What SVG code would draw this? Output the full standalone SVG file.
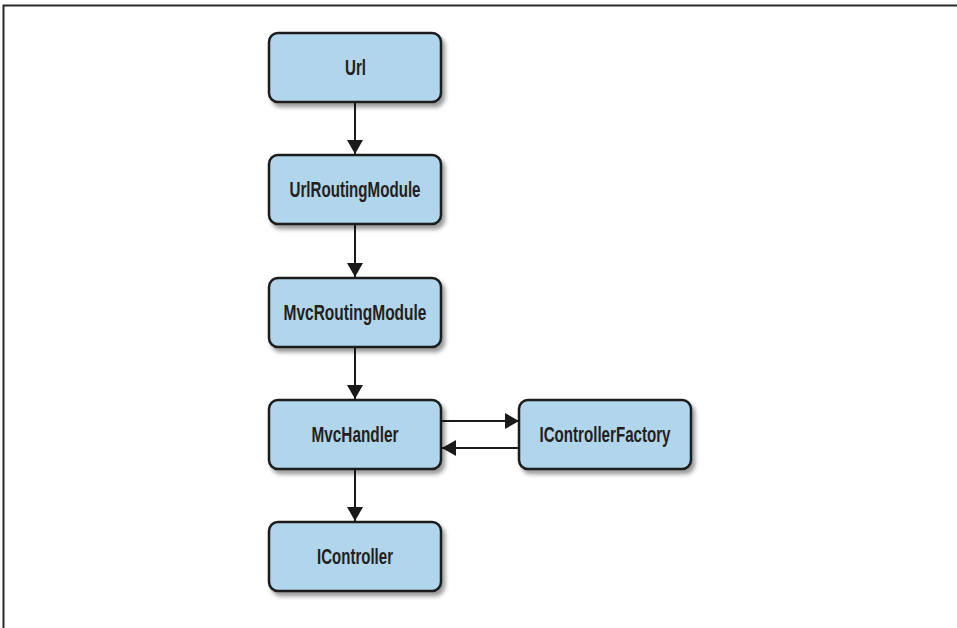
<svg xmlns="http://www.w3.org/2000/svg" width="957" height="628" viewBox="0 0 957 628">
<style>
.box{fill:#b1d5ea;stroke:#1a1a1a;stroke-width:2.5;filter:url(#sh)}
.lbl{font-family:"Liberation Sans",Arial,sans-serif;font-weight:bold;font-size:22.5px;fill:#231f20;text-anchor:middle}
.conn{stroke:#1a1a1a;stroke-width:2;fill:none}
</style>
<defs>
<filter id="sh" x="-10%" y="-10%" width="130%" height="140%">
<feDropShadow dx="3" dy="4" stdDeviation="2" flood-color="#000" flood-opacity="0.4"/>
</filter>
<marker id="ah" viewBox="0 0 14 16" refX="14" refY="8" markerWidth="14" markerHeight="16" markerUnits="userSpaceOnUse" orient="auto">
<path d="M0,0 L14,8 L0,16 Z" fill="#1a1a1a"/>
</marker>
</defs>
<rect width="957" height="628" fill="#fff"/>
<path d="M3.5,628 V5.5 H957" fill="none" stroke="#2a2a2a" stroke-width="2"/>
<g id="connectors">
<line class="conn" x1="355" y1="103" x2="355" y2="154" marker-end="url(#ah)"/>
<line class="conn" x1="355" y1="225" x2="355" y2="277" marker-end="url(#ah)"/>
<line class="conn" x1="355" y1="348" x2="355" y2="399" marker-end="url(#ah)"/>
<line class="conn" x1="355" y1="470" x2="355" y2="521" marker-end="url(#ah)"/>
<line class="conn" x1="442" y1="421" x2="519" y2="421" marker-end="url(#ah)"/>
<line class="conn" x1="519" y1="448" x2="442" y2="448" marker-end="url(#ah)"/>
</g>
<g id="url"><rect class="box" x="269" y="33" width="172" height="69" rx="9"/><text class="lbl" x="355.5" y="74.5" textLength="21" lengthAdjust="spacingAndGlyphs">Url</text></g>
<g id="urlroutingmodule"><rect class="box" x="269" y="155" width="172" height="69" rx="9"/><text class="lbl" x="355" y="197" textLength="131" lengthAdjust="spacingAndGlyphs">UrlRoutingModule</text></g>
<g id="mvcroutingmodule"><rect class="box" x="269" y="278" width="172" height="69" rx="9"/><text class="lbl" x="355" y="320" textLength="143" lengthAdjust="spacingAndGlyphs">MvcRoutingModule</text></g>
<g id="mvchandler"><rect class="box" x="269" y="400" width="172" height="69" rx="9"/><text class="lbl" x="355" y="442" textLength="87" lengthAdjust="spacingAndGlyphs">MvcHandler</text></g>
<g id="icontrollerfactory"><rect class="box" x="519" y="400" width="172" height="69" rx="9"/><text class="lbl" x="605" y="442" textLength="131" lengthAdjust="spacingAndGlyphs">IControllerFactory</text></g>
<g id="icontroller"><rect class="box" x="269" y="522" width="172" height="69" rx="9"/><text class="lbl" x="355" y="564" textLength="76" lengthAdjust="spacingAndGlyphs">IController</text></g>
</svg>
